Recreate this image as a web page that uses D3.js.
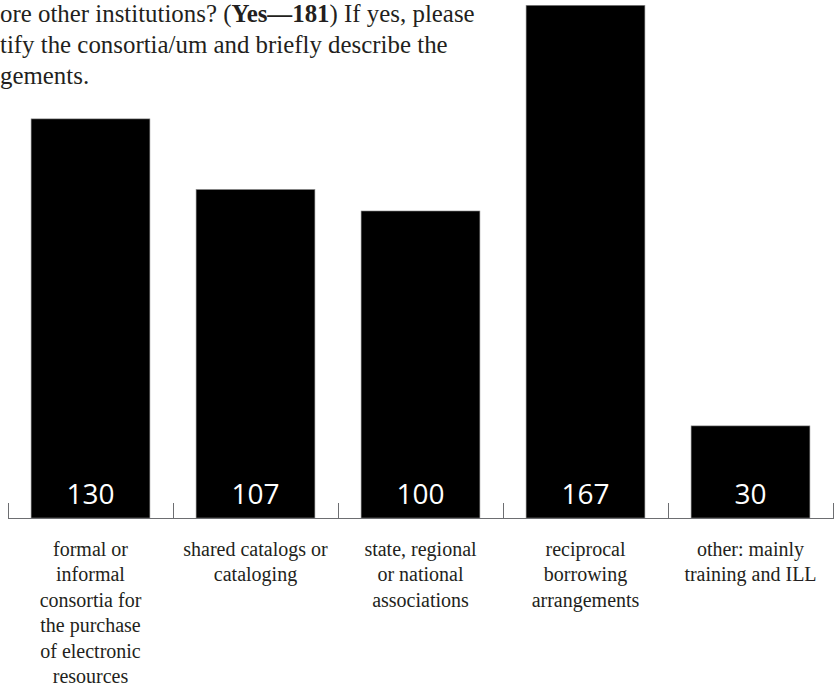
<!DOCTYPE html>
<meta charset="utf-8">
<script src="https://d3js.org/d3.v7.min.js"></script>
<style>
  body { margin: 0; background: #fff; }
  svg { display: block; }
</style>
<div id="chart"></div>

<script>

// data
var categories = ["formal", "shared", "state", "reciprocal", "other"];
var values = [130, 107, 100, 167, 30];
var labelLines = [
  ["formal or", "informal", "consortia for", "the purchase", "of electronic", "resources"],
  ["shared catalogs or", "cataloging"],
  ["state, regional", "or national", "associations"],
  ["reciprocal", "borrowing", "arrangements"],
  ["other: mainly", "training and ILL"]
];
// visible part of the question text (the source crops it on the left)
var titleLines = [
  ["ore other institutions? (", "Yes\u2014181", ") If yes, please"],
  ["tify the consortia/um and briefly describe the"],
  ["gements."]
];

var width = 837, height = 689;
var baseY = 518;

var svg = d3.select("#chart")
  .append("svg")
  .attr("width", width)
  .attr("height", height);

var x = d3.scaleBand()
  .domain(categories)
  .range([8, 833])
  .paddingInner(0.28)
  .paddingOuter(0.14);

var y = d3.scaleLinear()
  .domain([0, 167])
  .range([baseY, 5.3]);

// title
var title = svg.append("g")
  .attr("font-family", "'Liberation Serif', 'Times New Roman', serif")
  .attr("font-size", 22)
  .attr("fill", "#231f20");
titleLines.forEach(function(parts, i) {
  var t = title.append("text")
    .attr("class", "tline")
    .attr("x", 0)
    .attr("y", 22 + i * 31);
  parts.forEach(function(p, j) {
    t.append("tspan")
      .attr("font-weight", (parts.length == 3 && j == 1) ? "bold" : null)
      .text(p);
  });
});
// fit the first line to the width it has in the source
var firstLen = title.select(".tline").node().getComputedTextLength();
title.attr("font-size", 22 * 475 / firstLen);

// bars
svg.selectAll(".bar")
  .data(values)
  .enter()
  .append("rect")
  .attr("class", "bar")
  .attr("x", function(d, i) { return x(categories[i]); })
  .attr("width", x.bandwidth())
  .attr("y", function(d) { return y(d); })
  .attr("height", function(d) { return baseY - y(d); })
  .attr("fill", "#000")
  .attr("stroke", "#888")
  .attr("stroke-width", 0.6);

// value labels inside bars
svg.selectAll(".val")
  .data(values)
  .enter()
  .append("text")
  .attr("class", "val")
  .attr("x", function(d, i) { return x(categories[i]) + x.bandwidth() / 2; })
  .attr("y", 504)
  .attr("text-anchor", "middle")
  .attr("font-family", "'Open Sans', 'Noto Sans', sans-serif")
  .attr("font-size", 28)
  .attr("fill", "#fff")
  .text(function(d) { return d; });

// axis line with ticks between categories
var step = x.step();
var edges = categories.map(function(c) { return x(c) - step * x.paddingInner() / 2; });
edges.push(x.range()[1]);

svg.append("line")
  .attr("x1", edges[0]).attr("x2", edges[edges.length - 1] + 1)
  .attr("y1", baseY + 0.5).attr("y2", baseY + 0.5)
  .attr("stroke", "#6d6e71")
  .attr("stroke-width", 1);

svg.selectAll(".tick")
  .data(edges)
  .enter()
  .append("line")
  .attr("class", "tick")
  .attr("x1", function(d) { return d + 0.5; })
  .attr("x2", function(d) { return d + 0.5; })
  .attr("y1", baseY - 15)
  .attr("y2", baseY)
  .attr("stroke", "#6d6e71")
  .attr("stroke-width", 1);

// category labels
var labels = svg.append("g")
  .attr("font-family", "'Liberation Serif', 'Times New Roman', serif")
  .attr("font-size", 20)
  .attr("fill", "#231f20")
  .attr("text-anchor", "middle");

labelLines.forEach(function(lines, i) {
  var t = labels.append("text")
    .attr("x", x(categories[i]) + x.bandwidth() / 2)
    .attr("y", 556);
  lines.forEach(function(l, j) {
    t.append("tspan")
      .attr("x", x(categories[i]) + x.bandwidth() / 2)
      .attr("y", 556 + j * 25.4)
      .text(l);
  });
});

</script>
